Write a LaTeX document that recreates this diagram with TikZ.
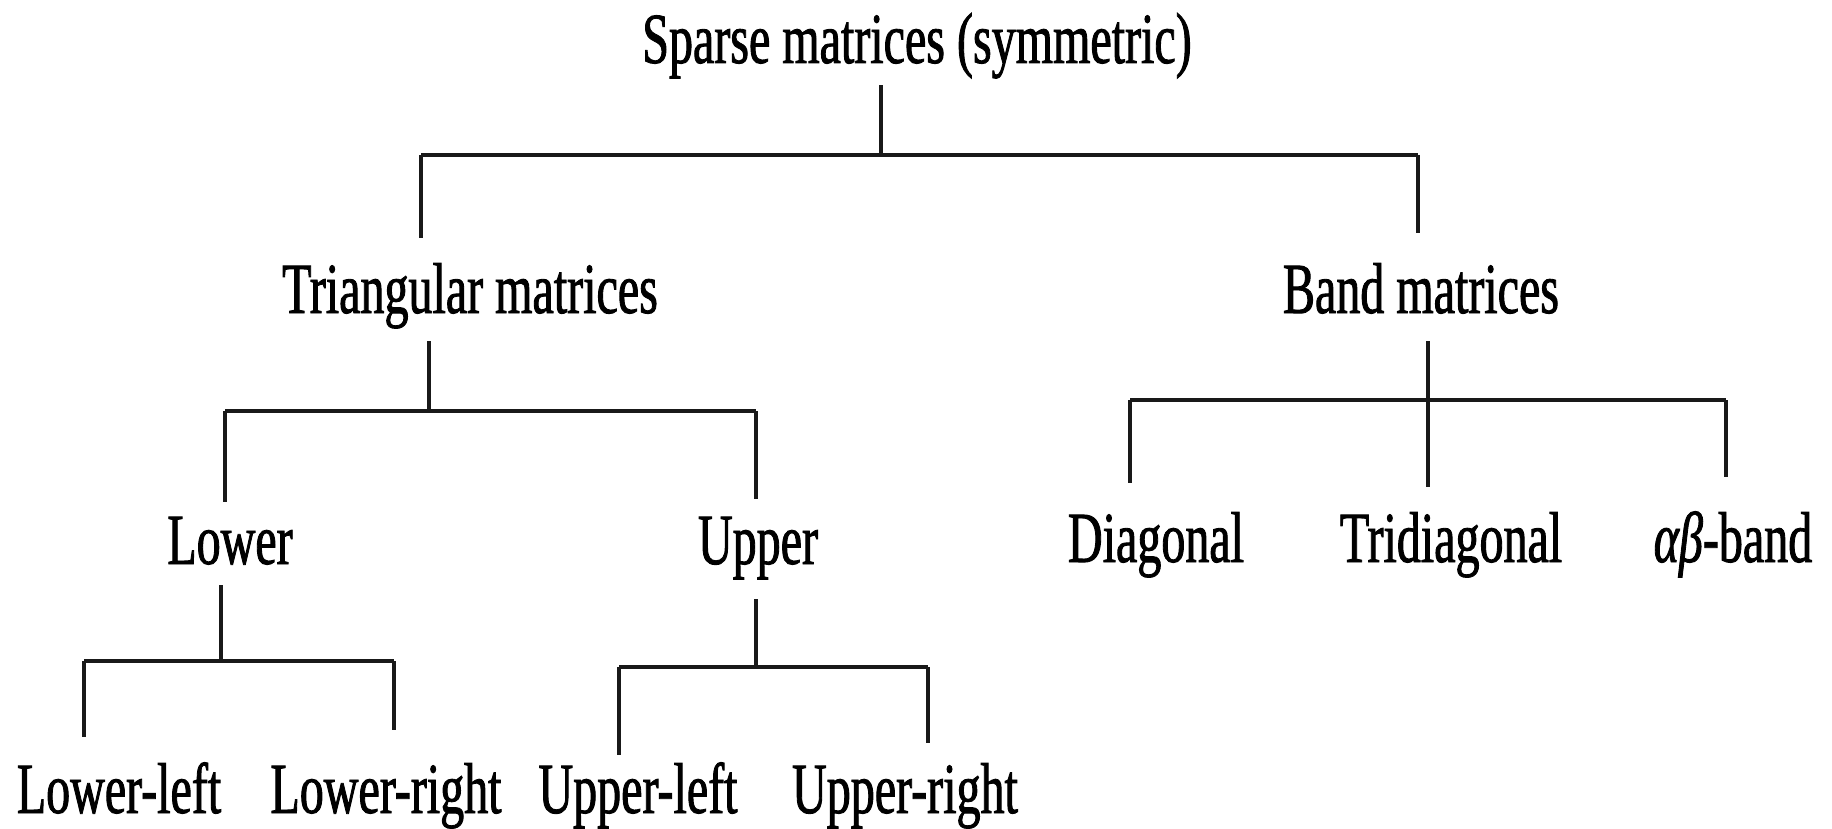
\documentclass[tikz,border=0pt]{standalone}
\usepackage{fontspec}
\setmainfont{Liberation Serif}[FakeStretch=0.667, FakeBold=1.2]
\begin{document}
\begin{tikzpicture}[x=1pt,y=-1pt,
  lbl/.style={inner sep=0pt, anchor=base, text height=43.5pt, text depth=14pt,
    font=\fontsize{72}{78}\selectfont},
  conn/.style={line width=3.8pt, draw=black!90, line cap=butt, line join=miter}]
\useasboundingbox[fill=white] (0,0) rectangle (1832,829);
% text nodes
\node[lbl] (sparse) at (917,63) {Sparse matrices (symmetric)};
\node[lbl] (tri) at (470,313) {Triangular matrices};
\node[lbl] (band) at (1421,313) {Band matrices};
\node[lbl] (lower) at (230,564) {Lower};
\node[lbl] (upper) at (758,564) {Upper};
\node[lbl] (diag) at (1156,562) {Diagonal};
\node[lbl] (tridiag) at (1451,562) {Tridiagonal};
\node[lbl] (ab) at (1733,562) {{\itshape αβ}-band};
\node[lbl] (ll) at (119,813) {Lower-left};
\node[lbl] (lr) at (386,813) {Lower-right};
\node[lbl] (ul) at (638,813) {Upper-left};
\node[lbl] (ur) at (905,813) {Upper-right};
% junction coordinates
\coordinate (topj) at (881,155);
\coordinate (topL) at (421,155);
\coordinate (topR) at (1418,155);
\coordinate (trij) at (429,411);
\coordinate (triL) at (225,411);
\coordinate (triR) at (756,411);
\coordinate (bandj) at (1428,400);
\coordinate (bandL) at (1130,400);
\coordinate (bandR) at (1726,400);
\coordinate (lowj) at (221,661);
\coordinate (lowL) at (84,661);
\coordinate (lowR) at (394,661);
\coordinate (upj) at (756,667);
\coordinate (upL) at (619,667);
\coordinate (upR) at (928,667);
% connectors: sparse
\draw[conn, shorten <=8pt] (sparse.south -| topj) -- (topj);
\draw[conn] (topL) -- (topR);
\draw[conn, shorten >=31pt] (topL) -- (topL |- tri.north);
\draw[conn, shorten >=36pt] (topR) -- (topR |- band.north);
% triangular
\draw[conn, shorten <=14pt] (tri.south -| trij) -- (trij);
\draw[conn] (triL) -- (triR);
\draw[conn, shorten >=18pt] (triL) -- (triL |- lower.north);
\draw[conn, shorten >=21pt] (triR) -- (triR |- upper.north);
% band
\draw[conn, shorten <=14pt] (band.south -| bandj) -- (bandj);
\draw[conn] (bandL) -- (bandR);
\draw[conn, shorten >=35pt] (bandL) -- (bandL |- diag.north);
\draw[conn, shorten >=31pt] (bandj) -- (bandj |- tridiag.north);
\draw[conn, shorten >=41pt] (bandR) -- (bandR |- ab.north);
% lower
\draw[conn, shorten <=7pt] (lower.south -| lowj) -- (lowj);
\draw[conn] (lowL) -- (lowR);
\draw[conn, shorten >=32pt] (lowL) -- (lowL |- ll.north);
\draw[conn, shorten >=39pt] (lowR) -- (lowR |- lr.north);
% upper
\draw[conn, shorten <=21pt] (upper.south -| upj) -- (upj);
\draw[conn] (upL) -- (upR);
\draw[conn, shorten >=14pt] (upL) -- (upL |- ul.north);
\draw[conn, shorten >=26pt] (upR) -- (upR |- ur.north);
\end{tikzpicture}
\end{document}
